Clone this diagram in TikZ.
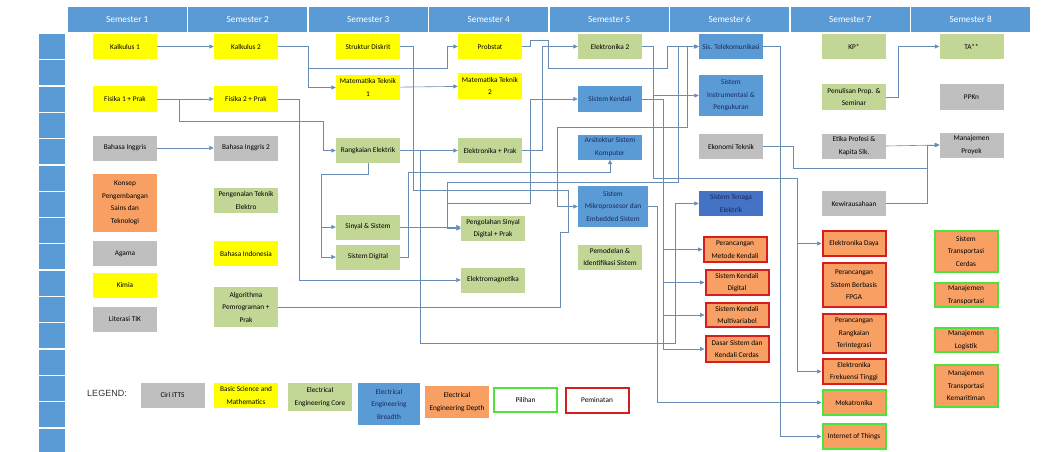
\documentclass[tikz,border=0pt]{standalone}
\usepackage{fontspec}
\setmainfont{Carlito}
\newfontfamily\legendfont{Liberation Sans}
\usetikzlibrary{arrows.meta}

\definecolor{chead}{RGB}{91,155,213}
\definecolor{cyellow}{RGB}{255,255,0}
\definecolor{cgreen}{RGB}{194,214,150}
\definecolor{cblue}{RGB}{91,155,213}
\definecolor{cdblue}{RGB}{68,114,196}
\definecolor{cgray}{RGB}{191,191,191}
\definecolor{corange}{RGB}{248,160,100}
\definecolor{cred}{RGB}{215,30,30}
\definecolor{cgreenb}{RGB}{80,225,60}
\definecolor{cnavy}{RGB}{25,40,95}
\definecolor{cline}{RGB}{105,140,180}

\begin{document}
\begin{tikzpicture}[x=1pt, y=-1pt,
    course/.style={rectangle, minimum width=64pt, minimum height=25pt, inner sep=1pt,
                   align=center, font=\fontsize{7.3}{12.5}\selectfont},
    itts/.style={course, fill=cgray},
    sains/.style={course, fill=cyellow},
    core/.style={course, fill=cgreen},
    breadth/.style={course, fill=cblue, text=cnavy},
    depth/.style={course, fill=corange},
    peminatan/.style={depth, draw=cred, line width=2pt, minimum width=63pt},
    pilihan/.style={depth, draw=cgreenb, line width=2pt, minimum width=63pt},
    link/.style={draw=cline, line width=0.6pt, -{Triangle[width=4pt,length=4.5pt]}},
    plain/.style={draw=cline, line width=0.6pt}
    ]
    \useasboundingbox[fill=white] (0,0) rectangle (1047,452);

    % header and side bar
    \foreach \i in {1,...,8}{
        \pgfmathsetmacro{\xa}{67+120.5*(\i-1)+0.6}
        \pgfmathsetmacro{\xb}{67+120.5*\i-0.6}
        \fill[chead] (\xa,7) rectangle (\xb,32);
        \node[text=white, font=\fontsize{9.3}{11}\selectfont] (sem\i) at ({(\xa+\xb)/2},19.5) {Semester \i};
    }
    \foreach \i in {0,...,15}{
        \pgfmathsetmacro{\ya}{34+26.3*\i}
        \fill[chead] (39,\ya) rectangle (65,\ya+25);
    }

    % semester 1
    \node[sains] (kal1) at (125,46.5) {Kalkulus 1};
    \node[sains] (fis1) at (125,99) {Fisika 1 + Prak};
    \node[itts] (bing1) at (125,148) {Bahasa Inggris};
    \node[depth, minimum height=58pt] (kpst) at (125,203) {Konsep\\Pengembangan\\Sains dan\\Teknologi};
    \node[itts] (agama) at (125,253.5) {Agama};
    \node[sains] (kimia) at (125,285.5) {Kimia};
    \node[itts] (tik) at (125,319.5) {Literasi TIK};

    % semester 2
    \node[sains] (kal2) at (246,46.5) {Kalkulus 2};
    \node[sains] (fis2) at (246,99) {Fisika 2 + Prak};
    \node[itts] (bing2) at (246,148) {Bahasa Inggris 2};
    \node[core] (pte) at (246,200.5) {Pengenalan Teknik\\Elektro};
    \node[sains] (bind) at (246,253.5) {Bahasa Indonesia};
    \node[core, minimum height=40pt] (algo) at (246,307) {Algorithma\\Pemrograman +\\Prak};

    % semester 3
    \node[sains] (strd) at (368,46.5) {Struktur Diskrit};
    \node[sains] (mtk1) at (368,87.5) {Matematika Teknik\\1};
    \node[core] (rang) at (368,150.5) {Rangkaian Elektrik};
    \node[core] (sinyal) at (368,227) {Sinyal \& Sistem};
    \node[core] (sdig) at (368,257) {Sistem Digital};

    % semester 4
    \node[sains] (prob) at (490,46.5) {Probstat};
    \node[sains] (mtk2) at (490,86) {Matematika Teknik\\2};
    \node[core] (elpr) at (490,150.5) {Elektronika + Prak};
    \node[core] (psd) at (493,228.5) {Pengolahan Sinyal\\Digital + Prak};
    \node[core] (emag) at (493,280) {Elektromagnetika};

    % semester 5
    \node[core] (elk2) at (610,46.5) {Elektronika 2};
    \node[breadth] (skend) at (610,99) {Sistem Kendali};
    \node[breadth] (ask) at (610,147) {Arsitektur Sistem\\Komputer};
    \node[breadth, minimum width=70pt, minimum height=41pt] (mikro) at (613,206.5) {Sistem\\Mikroprosesor dan\\Embedded Sistem};
    \node[core] (pis) at (610,257) {Pemodelan \&\\Identifikasi Sistem};

    % semester 6
    \node[breadth] (stel) at (731,46.5) {Sis. Telekomunikasi};
    \node[breadth, minimum height=41pt] (sip) at (731,95.5) {Sistem\\Instrumentasi \&\\Pengukuran};
    \node[itts] (ekot) at (731,146.5) {Ekonomi Teknik};
    \node[breadth, fill=cdblue] (ste) at (731,203.5) {Sistem Tenaga\\Elektrik};
    \node[peminatan, minimum height=25pt] (pmk) at (735,249.5) {Perancangan\\Metode Kendali};
    \node[peminatan, minimum height=25pt] (skd) at (737,282.5) {Sistem Kendali\\Digital};
    \node[peminatan, minimum height=24pt] (skm) at (737,315) {Sistem Kendali\\Multivariabel};
    \node[peminatan, minimum height=26pt] (dsk) at (737,349) {Dasar Sistem dan\\Kendali Cerdas};

    % semester 7
    \node[core] (kp) at (854,46.5) {KP*};
    \node[core] (pps) at (854,97) {Penulisan Prop. \&\\Seminar};
    \node[itts] (etika) at (854,146) {Etika Profesi \&\\Kapita Slk.};
    \node[itts] (kwu) at (854,203.5) {Kewirausahaan};
    \node[peminatan] (eld) at (854,243.5) {Elektronika Daya};
    \node[peminatan, minimum height=44pt] (fpga) at (854,285) {Perancangan\\Sistem Berbasis\\FPGA};
    \node[peminatan, minimum height=39pt] (prt) at (854,333.5) {Perancangan\\Rangkaian\\Terintegrasi};
    \node[peminatan] (eft) at (854,371.5) {Elektronika\\Frekuensi Tinggi};
    \node[pilihan] (mek) at (854,402.5) {Mekatronika};
    \node[pilihan] (iot) at (854,436.5) {Internet of Things};

    % semester 8
    \node[core] (ta) at (971.5,46.5) {TA**};
    \node[itts] (ppkn) at (971.5,97) {PPKn};
    \node[itts] (mpro) at (971.5,145) {Manajemen\\Proyek};
    \node[pilihan, minimum height=41pt] (stc) at (966,251.5) {Sistem\\Transportasi\\Cerdas};
    \node[pilihan, minimum height=24pt] (mtr) at (966,295) {Manajemen\\Transportasi};
    \node[pilihan, minimum height=24pt] (mlog) at (966,340) {Manajemen\\Logistik};
    \node[pilihan, minimum height=42pt] (mtkm) at (966,386) {Manajemen\\Transportasi\\Kemaritiman};

    % legend
    \node[text=black!80, font=\legendfont\fontsize{9}{10}\selectfont] (legend) at (107,393) {LEGEND:};
    \node[itts] (lgitts) at (172.5,395.5) {Ciri ITTS};
    \node[sains] (lgbsm) at (246,395.5) {Basic Science and\\Mathematics};
    \node[core, minimum height=28pt] (lgcore) at (320,397) {Electrical\\Engineering Core};
    \node[breadth, minimum width=62pt, minimum height=42pt] (lgbread) at (389,404) {Electrical\\Engineering\\Breadth};
    \node[depth, minimum height=32pt] (lgdepth) at (457,402) {Electrical\\Engineering Depth};
    \node[pilihan, fill=white, minimum height=24pt] (lgpil) at (525.5,400) {Pilihan};
    \node[peminatan, fill=white, minimum height=25pt] (lgpem) at (597,400.5) {Peminatan};

    % prerequisites
    \draw[link] (kal1) -- (kal2);
    \draw[link] (kal2.east) -- (308,46.5) |- (mtk1.west);
    \draw[link] (kal2.east) -- (308,46.5) -- (308,68) -- (447,68) |- (prob.west);
    \draw[link] (fis1) -- (fis2);
    \draw[link] (fis1.east) -- ++(22,0) |- (323,121) |- (rang.west);
    \draw[link] (fis2.east) -- ++(21,0) |- (emag.west);
    \draw[link] (bing1) -- (bing2);
    \draw[link] (mtk1) -- (mtk2);
    \draw[link] (rang) -- (elpr);
    \draw[link] (rang.south) |- (321,174) |- (sinyal.west);
    \draw[link] (rang.south) |- (321,174) |- (sdig.west);
    \draw[link] (sinyal.east) -- (sinyal.east -| psd.west);
    \draw[link] (sdig.east) -- ++(8,0) |- ([yshift=-13pt]ask.south) -- (ask.south);
    \draw[link] (elpr.east) -- ++(20,0) |- (elk2.west);
    \draw[link] (prob.east) -- (530,46.5) -- (530,40) -- (548,40) -- (548,68) -- (667,68) |- (stel.west);
    \draw[link] (elpr.east) -- (530,150.5) |- (skend.west);
    \draw[link] (elpr.east) -- (530,150.5) -- (530,203) -- (447,203) |- (psd.west);
    \draw[link] (elpr.east) -- (530,150.5) -- (530,203) -- (447,203) -- (447,182) -- (678,182) |- (stel.west);
    \draw[link] (stel.west) ++(-12,0) |- (557,127) |- (mikro.west);
    \draw[plain] (strd.east) -- (413,46.5) -- (413,190) -- (568,190) -- (568,232) -- (560,232) -- (560,307) -- (algo.east);
    \draw[link] (elk2.east) -| (653,95.5) -- (sip.west);
    \draw[link] (elk2.east) -| (653,178) -| ([xshift=-24pt]eld.west) -- (eld.west);
    \draw[link] (elk2.east) -| (653,178) -| ([xshift=-24pt]eft.west) -- (eft.west);
    \draw[link] (stel.east) -- (780,46.5) |- (iot.west);
    \foreach \t in {pmk,skd,skm,dsk}
        \draw[link] (skend.east) -- (663,99) |- (\t.west);
    \draw[link] (mikro.east) -- (657,206.5) |- (mek.west);
    \draw[link] (rang.east) -- (420,150.5) -- (420,343) -- (675,343) |- (ste.west);
    \draw[link] (ekot.east) -- (793,146.5) -- (793,168) -- (927,168) |- (mpro.west);
    \draw[link] (etika.east) -- (mpro.west);
    \draw[link] (kwu.east) -| (927,145) -- (mpro.west);
    \draw[link] (pps.east) -- (898,97) |- (ta.west);
\end{tikzpicture}
\end{document}
